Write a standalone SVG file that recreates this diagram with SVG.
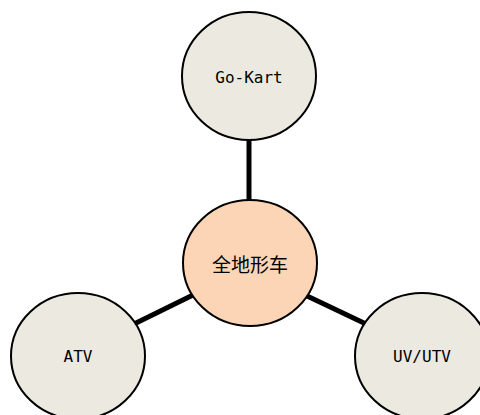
<svg xmlns="http://www.w3.org/2000/svg" width="480" height="415" viewBox="0 0 480 415">
  <style>
    .edge { stroke: #000; stroke-width: 5; fill: none; }
    .leaf { fill: #ECEAE0; stroke: #000; stroke-width: 2; }
    .hub { fill: #FBD5B5; stroke: #000; stroke-width: 2; }
    .lbl { font-family: "DejaVu Sans Mono", "Noto Sans CJK SC", monospace; font-size: 16px; fill: #000; text-anchor: middle; dominant-baseline: central; }
    .cjk { font-family: "Noto Sans CJK SC", sans-serif; font-size: 19px; }
  </style>
  <rect width="480" height="415" fill="#fff"/>
  <g id="connectors">
    <line class="edge" x1="249" y1="138" x2="249" y2="202"/>
    <line class="edge" x1="193" y1="295" x2="132" y2="325"/>
    <line class="edge" x1="305" y1="295" x2="366" y2="324"/>
  </g>
  <g id="node-gokart">
    <ellipse class="leaf" cx="249" cy="76" rx="67" ry="64"/>
    <text class="lbl" x="249" y="77">Go-Kart</text>
  </g>
  <g id="node-center">
    <ellipse class="hub" cx="250" cy="263" rx="67" ry="63"/>
    <text class="lbl cjk" x="250" y="263">全地形车</text>
  </g>
  <g id="node-atv">
    <ellipse class="leaf" cx="78" cy="356" rx="67" ry="63"/>
    <text class="lbl" x="78" y="356">ATV</text>
  </g>
  <g id="node-uvutv">
    <ellipse class="leaf" cx="422" cy="356" rx="67" ry="63"/>
    <text class="lbl" x="422" y="356">UV/UTV</text>
  </g>
</svg>
